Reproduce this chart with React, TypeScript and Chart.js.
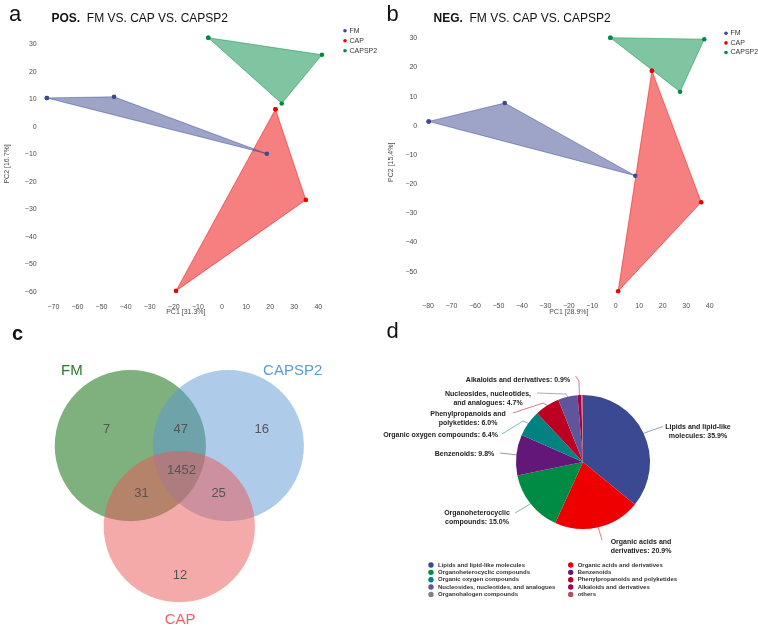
import React, { useEffect, useRef } from "react";
import { Chart, registerables } from "chart.js";

Chart.register(...registerables);

const FONT = "'Liberation Sans', Arial, Helvetica, sans-serif";
Chart.defaults.font.family = FONT;

type Pt = { x: number; y: number };

// ---------- PCA scores ----------
const groupNames = ["FM", "CAP", "CAPSP2"];
const groupColors = ["#3B4992", "#EE0000", "#008B45"];
const groupFills = ["rgba(59,73,146,0.5)", "rgba(238,0,0,0.5)", "rgba(0,139,69,0.5)"];
const groupEdges = ["rgba(59,73,146,0.6)", "rgba(238,0,0,0.6)", "rgba(0,139,69,0.6)"];

// positive ion mode
const posFM: Pt[] = [{ x: -72.7, y: 10.5 }, { x: -44.8, y: 10.9 }, { x: 18.6, y: -9.8 }];
const posCAP: Pt[] = [{ x: 22.2, y: 6.4 }, { x: 34.8, y: -26.6 }, { x: -19.1, y: -59.7 }];
const posCAPSP2: Pt[] = [{ x: -5.7, y: 32.4 }, { x: 41.5, y: 26.2 }, { x: 24.8, y: 8.5 }];

// negative ion mode
const negFM: Pt[] = [{ x: -79.7, y: 1.5 }, { x: -47.3, y: 7.8 }, { x: 8.3, y: -17.1 }];
const negCAP: Pt[] = [{ x: 15.4, y: 18.9 }, { x: 36.4, y: -26.2 }, { x: 1.0, y: -56.7 }];
const negCAPSP2: Pt[] = [{ x: -2.3, y: 30.2 }, { x: 37.7, y: 29.7 }, { x: 27.4, y: 11.7 }];

const posTicksX = [-70, -60, -50, -40, -30, -20, -10, 0, 10, 20, 30, 40];
const posTicksY = [-60, -50, -40, -30, -20, -10, 0, 10, 20, 30];
const negTicksX = [-80, -70, -60, -50, -40, -30, -20, -10, 0, 10, 20, 30, 40];
const negTicksY = [-50, -40, -30, -20, -10, 0, 10, 20, 30];

const posTitleX = "PC1 [31.3%]";
const posTitleY = "PC2 [16.7%]";
const negTitleX = "PC1 [28.9%]";
const negTitleY = "PC2 [15.4%]";

// ---------- Venn diagram ----------
const vennSets = ["FM", "CAPSP2", "CAP"];
const vennCenters: Pt[] = [{ x: -0.648, y: 0 }, { x: 0.648, y: 0 }, { x: 0, y: -1.07 }];
const vennRadius = 1;
const vennFills = ["rgba(0,100,0,0.5)", "rgba(93,151,211,0.5)", "rgba(235,85,85,0.5)"];
const vennNameColors = ["#2a7a2a", "#5b9bd5", "#ef6262"];
const vennNamePos: Pt[] = [{ x: -1.42, y: 0.99 }, { x: 1.5, y: 0.99 }, { x: 0.01, y: -2.31 }];
const vennCounts = [7, 47, 16, 1452, 31, 25, 12];
const vennCountPos: Pt[] = [
  { x: -0.96, y: 0.21 },
  { x: 0.02, y: 0.21 },
  { x: 1.09, y: 0.21 },
  { x: 0.03, y: -0.33 },
  { x: -0.5, y: -0.63 },
  { x: 0.52, y: -0.63 },
  { x: 0.01, y: -1.71 },
];

// ---------- compound classes ----------
const classNames = [
  "Lipids and lipid-like molecules",
  "Organic acids and derivatives",
  "Organoheterocyclic compounds",
  "Benzenoids",
  "Organic oxygen compounds",
  "Phenylpropanoids and polyketides",
  "Nucleosides, nucleotides, and analogues",
  "Alkaloids and derivatives",
  "Organohalogen compounds",
  "others",
];
const classShares = [35.9, 20.9, 15.0, 9.8, 6.4, 6.0, 4.7, 0.9, 0.2, 0.2];
const classColors = [
  "#3B4992", "#EE0000", "#008B45", "#631879", "#008280",
  "#BB0021", "#5F559B", "#A20056", "#808180", "#B24D62",
];
// wrapped callout text (value appended to the last line)
const calloutText = [
  ["Lipids and lipid-like", "molecules"],
  ["Organic acids and", "derivatives"],
  ["Organoheterocyclic", "compounds"],
  ["Benzenoids"],
  ["Organic oxygen compounds"],
  ["Phenylpropanoids and", "polyketides"],
  ["Nucleosides, nucleotides,", "and analogues"],
  ["Alkaloids and derivatives"],
];
// callout placement relative to the pie centre, in px
const calloutLayout: { text: [number, number]; end: [number, number]; elbow?: [number, number] }[] = [
  { text: [115, -35], end: [80, -35.5] },
  { text: [58, 80], end: [19, 78] },
  { text: [-106, 51], end: [-68, 51] },
  { text: [-118.5, -8], end: [-83, -9] },
  { text: [-142.5, -27], end: [-81, -28], elbow: [-60, -41] },
  { text: [-115, -48], end: [-70, -49], elbow: [-40, -59] },
  { text: [-95, -68], end: [-46, -69], elbow: [-17, -68] },
  { text: [-65, -81.5], end: [-7.5, -86], elbow: [-4, -81] },
];

function hexToRgba(hex: string, a: number) {
  const n = parseInt(hex.slice(1), 16);
  return `rgba(${(n >> 16) & 255},${(n >> 8) & 255},${n & 255},${a})`;
}

function minusSign(v: number | string) {
  return String(v).replace("-", "\u2212");
}

// ---------- plugins ----------
const groupLegend = {
  id: "groupLegend",
  afterDraw(chart: any, _args: any, opts: any) {
    const { ctx } = chart;
    ctx.save();
    ctx.font = `${opts.size}px ${FONT}`;
    ctx.textBaseline = "middle";
    ctx.textAlign = "left";
    chart.data.datasets.forEach((ds: any, i: number) => {
      const y = opts.y + i * opts.gap;
      ctx.fillStyle = ds.pointBackgroundColor;
      ctx.beginPath();
      ctx.arc(opts.x, y, opts.r, 0, Math.PI * 2);
      ctx.fill();
      ctx.fillStyle = "#333";
      ctx.fillText(ds.label, opts.x + 4.5, y);
    });
    ctx.restore();
  },
};

const vennText = {
  id: "vennText",
  afterDatasetsDraw(chart: any) {
    const { ctx, scales } = chart;
    const px = (p: Pt) => [scales.x.getPixelForValue(p.x), scales.y.getPixelForValue(p.y)];
    ctx.save();
    ctx.textAlign = "center";
    ctx.textBaseline = "middle";
    ctx.font = `13px ${FONT}`;
    ctx.fillStyle = "#555";
    vennCounts.forEach((n, i) => {
      const [x, y] = px(vennCountPos[i]);
      ctx.fillText(String(n), x, y);
    });
    ctx.font = `15px ${FONT}`;
    vennSets.forEach((s, i) => {
      const [x, y] = px(vennNamePos[i]);
      ctx.fillStyle = vennNameColors[i];
      ctx.fillText(s, x, y);
    });
    ctx.restore();
  },
};

const pieCallouts = {
  id: "pieCallouts",
  afterDraw(chart: any) {
    const { ctx } = chart;
    const meta = chart.getDatasetMeta(0);
    ctx.save();
    ctx.lineWidth = 0.8;
    ctx.font = `bold 7px ${FONT}`;
    ctx.textAlign = "center";
    ctx.textBaseline = "middle";
    calloutText.forEach((lines, i) => {
      const arc = meta.data[i];
      const { x, y, startAngle, endAngle, outerRadius } = arc.getProps(
        ["x", "y", "startAngle", "endAngle", "outerRadius"],
        true
      );
      const mid = (startAngle + endAngle) / 2;
      const sx = x + Math.cos(mid) * outerRadius;
      const sy = y + Math.sin(mid) * outerRadius;
      const lay = calloutLayout[i];
      ctx.strokeStyle = hexToRgba(classColors[i], 0.65);
      ctx.beginPath();
      ctx.moveTo(sx, sy);
      if (lay.elbow) ctx.lineTo(x + lay.elbow[0], y + lay.elbow[1]);
      ctx.lineTo(x + lay.end[0], y + lay.end[1]);
      ctx.stroke();
      ctx.fillStyle = "#222";
      const text = lines.slice();
      text[text.length - 1] += `: ${classShares[i].toFixed(1)}%`;
      text.forEach((t, k) => {
        ctx.fillText(t, x + lay.text[0], y + lay.text[1] + k * 9);
      });
    });
    ctx.restore();
  },
};

const classLegend = {
  id: "classLegend",
  afterDraw(chart: any, _args: any, opts: any) {
    const { ctx } = chart;
    const labels: string[] = chart.data.labels;
    const colors: string[] = chart.data.datasets[0].backgroundColor;
    ctx.save();
    ctx.font = `bold 6px ${FONT}`;
    ctx.textAlign = "left";
    ctx.textBaseline = "middle";
    labels.forEach((label, i) => {
      const col = i % 2;
      const row = Math.floor(i / 2);
      const x = opts.x[col];
      const y = opts.y + row * opts.gap;
      ctx.fillStyle = colors[i];
      ctx.beginPath();
      ctx.arc(x, y, opts.r, 0, Math.PI * 2);
      ctx.fill();
      ctx.fillStyle = "#333";
      ctx.fillText(label, x + 7, y);
    });
    ctx.restore();
  },
};

// ---------- configs ----------
type PcaLayout = {
  xr: [number, number];
  yr: [number, number];
  xTicks: number[];
  yTicks: number[];
  padTop: number;
  padRight: number;
  yWidth: number;
  xHeight: number;
  xTickPad: number;
  yTickPad: number;
  yTitlePad: number;
  legend: { x: number; y: number; gap: number };
};

function pcaConfig(groups: Pt[][], titleX: string, titleY: string, L: PcaLayout): any {
  const tickFont = { size: 7, family: FONT };
  return {
    type: "scatter",
    data: {
      datasets: groups.map((pts, i) => ({
        label: groupNames[i],
        data: [...pts, pts[0]],
        showLine: true,
        fill: "shape",
        backgroundColor: groupFills[i],
        borderColor: groupEdges[i],
        borderWidth: 0.8,
        pointBackgroundColor: groupColors[i],
        pointBorderColor: groupColors[i],
        pointBorderWidth: 0,
        pointRadius: 2.3,
      })),
    },
    options: {
      responsive: false,
      animation: false,
      devicePixelRatio: 1,
      events: [],
      layout: { padding: { left: 0, top: L.padTop, right: L.padRight, bottom: 0 } },
      plugins: {
        legend: { display: false },
        tooltip: { enabled: false },
        groupLegend: { x: L.legend.x, y: L.legend.y, gap: L.legend.gap, r: 1.8, size: 7 },
      },
      scales: {
        x: {
          type: "linear",
          min: L.xr[0],
          max: L.xr[1],
          afterBuildTicks: (s: any) => {
            s.ticks = L.xTicks.map((v) => ({ value: v }));
          },
          afterFit: (s: any) => {
            s.height = L.xHeight;
          },
          grid: { display: false, drawTicks: false },
          border: { display: false },
          ticks: {
            maxRotation: 0,
            autoSkip: false,
            padding: L.xTickPad,
            color: "#4d4d4d",
            font: tickFont,
            callback: (v: number) => minusSign(v),
          },
          title: {
            display: true,
            text: titleX,
            color: "#4d4d4d",
            font: tickFont,
            padding: { top: 0, bottom: 4 },
          },
        },
        y: {
          type: "linear",
          min: L.yr[0],
          max: L.yr[1],
          afterBuildTicks: (s: any) => {
            s.ticks = L.yTicks.map((v) => ({ value: v }));
          },
          afterFit: (s: any) => {
            s.width = L.yWidth;
          },
          grid: { display: false, drawTicks: false },
          border: { display: false },
          ticks: {
            autoSkip: false,
            padding: L.yTickPad,
            color: "#4d4d4d",
            font: tickFont,
            callback: (v: number) => minusSign(v),
          },
          title: {
            display: true,
            text: titleY,
            color: "#4d4d4d",
            font: tickFont,
            padding: { top: L.yTitlePad, bottom: 0 },
          },
        },
      },
    },
    plugins: [groupLegend],
  };
}

function vennConfig(w: number, h: number): any {
  // equal scaling on both axes: 75.6 px per unit
  const unit = 75.6;
  const cx = 179.3;
  const cy = 125.7;
  return {
    type: "scatter",
    data: {
      datasets: [
        {
          label: "sets",
          data: vennCenters,
          backgroundColor: vennFills,
          pointBackgroundColor: vennFills,
          pointBorderWidth: 0,
          pointRadius: (ctx: any) => {
            const sx = ctx.chart.scales.x;
            return Math.abs(sx.getPixelForValue(vennRadius) - sx.getPixelForValue(0));
          },
        },
      ],
    },
    options: {
      responsive: false,
      animation: false,
      devicePixelRatio: 1,
      events: [],
      layout: { padding: 0 },
      plugins: { legend: { display: false }, tooltip: { enabled: false } },
      scales: {
        x: { type: "linear", display: false, min: -cx / unit, max: (w - cx) / unit },
        y: { type: "linear", display: false, min: -(h - cy) / unit, max: cy / unit },
      },
    },
    plugins: [vennText],
  };
}

function pieConfig(): any {
  return {
    type: "pie",
    data: {
      labels: classNames,
      datasets: [{ data: classShares, backgroundColor: classColors, borderWidth: 0 }],
    },
    options: {
      responsive: false,
      animation: false,
      devicePixelRatio: 1,
      events: [],
      layout: { padding: { left: 138, right: 108, top: 75, bottom: 102 } },
      plugins: {
        legend: { display: false },
        tooltip: { enabled: false },
        classLegend: { x: [53, 192.7], y: 245, gap: 7.35, r: 2.7 },
      },
    },
    plugins: [pieCallouts, classLegend],
  };
}

const panelLetter: React.CSSProperties = {
  position: "absolute",
  fontSize: 22,
  lineHeight: "22px",
  color: "#111",
  fontFamily: FONT,
};

const panelTitle: React.CSSProperties = {
  position: "absolute",
  fontSize: 12,
  lineHeight: "12px",
  color: "#111",
  fontFamily: FONT,
  whiteSpace: "pre",
};

export default function App() {
  const aRef = useRef<HTMLCanvasElement>(null);
  const bRef = useRef<HTMLCanvasElement>(null);
  const cRef = useRef<HTMLCanvasElement>(null);
  const dRef = useRef<HTMLCanvasElement>(null);

  useEffect(() => {
    const charts = [
      new Chart(
        aRef.current!,
        pcaConfig([posFM, posCAP, posCAPSP2], posTitleX, posTitleY, {
          xr: [-75, 45],
          yr: [-62, 35],
          xTicks: posTicksX,
          yTicks: posTicksY,
          padTop: 30.6,
          padRight: 47.6,
          yWidth: 41.3,
          xHeight: 22.8,
          xTickPad: 5.6,
          yTickPad: 4.6,
          yTitlePad: 3,
          legend: { x: 345, y: 30.7, gap: 10 },
        })
      ),
      new Chart(
        bRef.current!,
        pcaConfig([negFM, negCAP, negCAPSP2], negTitleX, negTitleY, {
          xr: [-83, 43],
          yr: [-58, 33],
          xTicks: negTicksX,
          yTicks: negTicksY,
          padTop: 29.55,
          padRight: 41.3,
          yWidth: 42.96,
          xHeight: 25,
          xTickPad: 6.8,
          yTickPad: 3.7,
          yTitlePad: 9,
          legend: { x: 348, y: 33.3, gap: 9.6 },
        })
      ),
      new Chart(cRef.current!, vennConfig(378, 311)),
      new Chart(dRef.current!, pieConfig()),
    ];
    return () => charts.forEach((c) => c.destroy());
  }, []);

  return (
    <div
      style={{
        position: "absolute",
        left: 0,
        top: 0,
        width: 758,
        height: 631,
        background: "#fff",
        overflow: "hidden",
        fontFamily: FONT,
      }}
    >
      <canvas ref={aRef} width={378} height={320} style={{ position: "absolute", left: 0, top: 0 }} />
      <canvas ref={bRef} width={380} height={320} style={{ position: "absolute", left: 378, top: 0 }} />
      <canvas ref={cRef} width={378} height={311} style={{ position: "absolute", left: 0, top: 320 }} />
      <canvas ref={dRef} width={380} height={311} style={{ position: "absolute", left: 378, top: 320 }} />

      <div style={{ ...panelLetter, left: 9, top: 3 }}>a</div>
      <div style={{ ...panelTitle, left: 51.5, top: 11.5 }}>
        <b>POS.</b>
        {"  FM VS. CAP VS. CAPSP2"}
      </div>

      <div style={{ ...panelLetter, left: 386.5, top: 3 }}>b</div>
      <div style={{ ...panelTitle, left: 433.5, top: 11.5 }}>
        <b>NEG.</b>
        {"  FM VS. CAP VS. CAPSP2"}
      </div>

      <div style={{ ...panelLetter, fontSize: 20, lineHeight: "20px", fontWeight: "bold", left: 12, top: 323 }}>c</div>
      <div style={{ ...panelLetter, left: 386.5, top: 319.5 }}>d</div>
    </div>
  );
}
